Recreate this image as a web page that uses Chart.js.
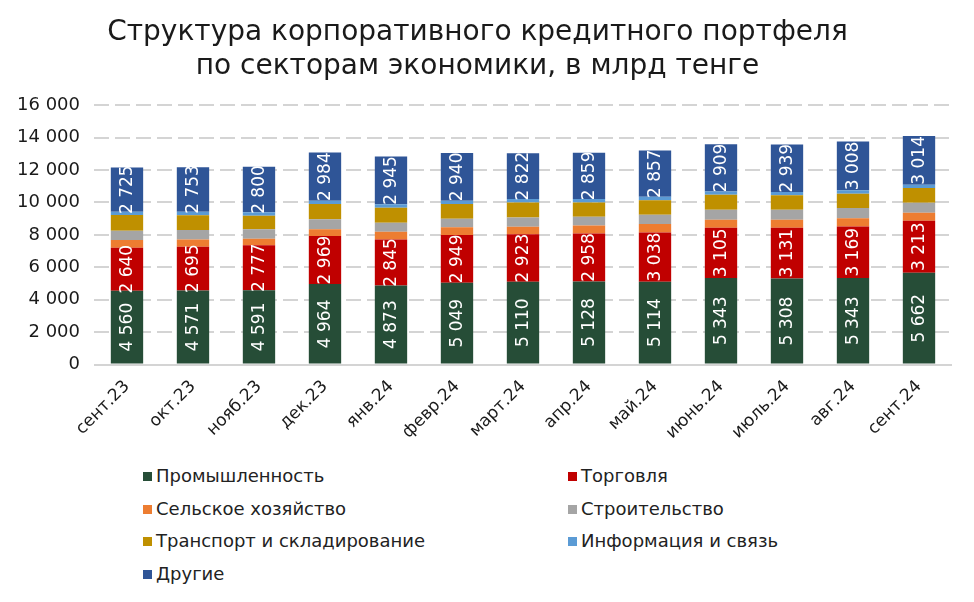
<!DOCTYPE html>
<html lang="ru">
<head>
<meta charset="utf-8">
<script src="https://cdn.jsdelivr.net/npm/chart.js@4.4.1/dist/chart.umd.min.js"></script>
<style>
  html, body { margin: 0; padding: 0; background: #fff; }
  body { width: 974px; height: 602px; position: relative; overflow: hidden; font-family: "DejaVu Sans", sans-serif; }
  #wrap { position: absolute; left: 0; top: 0; width: 974px; height: 447px; }
  #legend { position: absolute; left: 0; top: 460px; width: 974px; }
  .item { position: absolute; font-size: 18px; color: #222; white-space: nowrap; line-height: 22px; }
  .item i { display: inline-block; width: 9px; height: 9px; margin-right: 4px; vertical-align: 1px; }
</style>
</head>
<body>
<div id="wrap"><canvas id="chart"></canvas></div>
<div id="legend"></div>
<script>
// ---- DATA ----
const months = ['сент.23', 'окт.23', 'нояб.23', 'дек.23', 'янв.24', 'февр.24', 'март.24',
  'апр.24', 'май.24', 'июнь.24', 'июль.24', 'авг.24', 'сент.24'];

const industry  = [4560, 4571, 4591, 4964, 4873, 5049, 5110, 5128, 5114, 5343, 5308, 5343, 5662];
const trade     = [2640, 2695, 2777, 2969, 2845, 2949, 2923, 2958, 3038, 3105, 3131, 3169, 3213];
const agri      = [480, 455, 400, 415, 470, 475, 475, 495, 520, 480, 495, 520, 495];
const building  = [575, 575, 580, 620, 560, 520, 560, 540, 575, 620, 620, 620, 620];
const transport = [965, 910, 830, 930, 930, 910, 930, 870, 890, 930, 890, 890, 895];
const infoComm  = [205, 220, 220, 205, 210, 205, 220, 220, 210, 200, 200, 205, 205];
const others    = [2725, 2753, 2800, 2984, 2945, 2940, 2822, 2859, 2857, 2909, 2939, 3008, 3014];

const yTicks = [0, 2000, 4000, 6000, 8000, 10000, 12000, 14000, 16000];

const FONT = '"DejaVu Sans", sans-serif';
const fmt = v => String(Math.round(v)).replace(/\B(?=(\d{3})+(?!\d))/g, ' ');

// ---- LABELS INSIDE BARS ----
const barLabels = {
  id: 'barLabels',
  afterDatasetsDraw(chart) {
    const ctx = chart.ctx;
    chart.data.datasets.forEach((ds, i) => {
      if (!ds.showValues) return;
      const meta = chart.getDatasetMeta(i);
      meta.data.forEach((bar, j) => {
        const cy = (bar.y + bar.base) / 2;
        ctx.save();
        ctx.translate(bar.x, cy);
        ctx.rotate(-Math.PI / 2);
        ctx.fillStyle = '#fff';
        ctx.font = '17px ' + FONT;
        ctx.textAlign = 'center';
        ctx.textBaseline = 'middle';
        ctx.fillText(fmt(ds.data[j]), 0, 1);
        ctx.restore();
      });
    });
  }
};

const series = [
  { label: 'Промышленность', data: industry, color: '#264d37', showValues: true },
  { label: 'Торговля', data: trade, color: '#c00000', showValues: true },
  { label: 'Сельское хозяйство', data: agri, color: '#ed7d31' },
  { label: 'Строительство', data: building, color: '#a5a5a5' },
  { label: 'Транспорт и складирование', data: transport, color: '#bf9000' },
  { label: 'Информация и связь', data: infoComm, color: '#5b9bd5' },
  { label: 'Другие', data: others, color: '#2f5597', showValues: true }
];

const chart = new Chart(document.getElementById('chart'), {
  type: 'bar',
  data: {
    labels: months,
    datasets: series.map(s => ({
      label: s.label,
      data: s.data,
      backgroundColor: s.color,
      showValues: !!s.showValues,
      categoryPercentage: 1,
      barPercentage: 0.49
    }))
  },
  options: {
    responsive: true,
    maintainAspectRatio: false,
    animation: false,
    layout: { padding: { left: 3, right: 22, top: 0, bottom: 0 } },
    plugins: {
      legend: { display: false },
      tooltip: { enabled: false },
      title: {
        display: true,
        text: ['Структура корпоративного кредитного портфеля', 'по секторам экономики, в млрд тенге'],
        color: '#1a1a1a',
        font: { family: FONT, size: 28, weight: 'normal', lineHeight: 1.2 },
        padding: { top: 16, bottom: 22 }
      }
    },
    scales: {
      x: {
        stacked: true,
        grid: { display: false },
        border: { display: false },
        ticks: {
          color: '#1a1a1a',
          font: { family: FONT, size: 17 },
          minRotation: 45,
          maxRotation: 45,
          padding: 4
        }
      },
      y: {
        stacked: true,
        min: 0,
        max: 16000,
        afterBuildTicks: axis => { axis.ticks = yTicks.map(v => ({ value: v })); },
        grid: { color: '#d4d4d4', lineWidth: 2, drawTicks: false },
        border: { display: false, dash: c => (c.tick && c.tick.value === 0) ? [] : [15, 6] },
        ticks: {
          color: '#1a1a1a',
          font: { family: FONT, size: 18 },
          padding: 14,
          callback: v => fmt(v)
        }
      }
    }
  },
  plugins: [barLabels]
});

// ---- HTML LEGEND ----
const legend = document.getElementById('legend');
const cols = [143, 568];
series.forEach((s, i) => {
  const el = document.createElement('div');
  el.className = 'item';
  el.style.left = cols[i % 2] + 'px';
  el.style.top = (5 + Math.floor(i / 2) * 32.5) + 'px';
  el.innerHTML = `<i style="background:${s.color}"></i>${s.label}`;
  legend.appendChild(el);
});
</script>
</body>
</html>
